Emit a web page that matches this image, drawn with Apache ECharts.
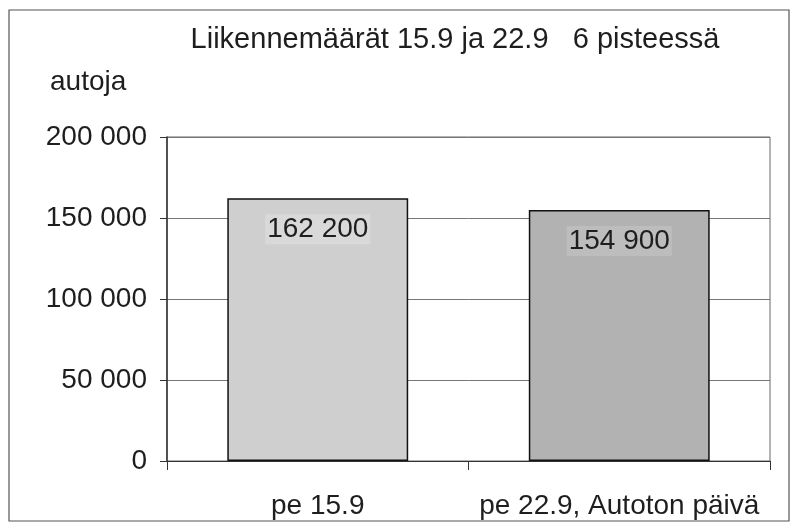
<!DOCTYPE html>
<html>
<head>
<meta charset="utf-8">
<script src="https://cdn.jsdelivr.net/npm/echarts@6/dist/echarts.min.js"></script>
<style>
  html, body { margin: 0; padding: 0; background: #fff; }
  #chart { width: 799px; height: 530px; }
</style>
</head>
<body>
<div id="chart"></div>
<script>
// data
var categories = ['pe 15.9', 'pe 22.9, Autoton päivä'];
var cars = [162200, 154900];
var barColors = ['#cfcfcf', '#b2b2b2'];
var labelBg = ['#d9d9d9', '#bdbdbd'];
var yTicks = [0, 50000, 100000, 150000, 200000];

function spaced(v) {
  return String(v).replace(/\B(?=(\d{3})+(?!\d))/g, ' ');
}

var font = 'Liberation Sans';
var textColor = '#1e1e1e';

var chart = echarts.init(document.getElementById('chart'));
chart.setOption({
  animation: false,
  textStyle: { fontFamily: font, color: textColor },
  title: {
    text: 'Liikennemäärät 15.9 ja 22.9   6 pisteessä',
    left: 450,
    textAlign: 'center',
    top: 20,
    textStyle: { fontFamily: font, fontSize: 29, fontWeight: 'normal', color: textColor }
  },
  graphic: [
    {
      type: 'rect',
      shape: { x: 9, y: 10, width: 780, height: 511 },
      style: { fill: 'none', stroke: '#555', lineWidth: 1.2 },
      silent: true
    },
    {
      type: 'text',
      left: 50,
      top: 68,
      style: { text: 'autoja', font: '28px "Liberation Sans"', fill: textColor }
    }
  ],
  grid: { left: 167, right: 29, top: 137, bottom: 69, show: true, borderColor: '#666', borderWidth: 1 },
  xAxis: {
    type: 'category',
    data: categories,
    axisLine: { lineStyle: { color: '#333', width: 1.2 } },
    axisTick: { show: true, length: 9, alignWithLabel: false, lineStyle: { color: '#333' } },
    axisLabel: { fontSize: 28, color: textColor, margin: 31, fontFamily: font, interval: 0 }
  },
  yAxis: {
    type: 'value',
    min: yTicks[0],
    max: yTicks[yTicks.length - 1],
    interval: yTicks[1] - yTicks[0],
    axisLine: { show: true, lineStyle: { color: '#333', width: 1.5 } },
    axisTick: { show: true, length: 7, lineStyle: { color: '#333' } },
    splitLine: { lineStyle: { color: '#777', width: 1 } },
    axisLabel: { fontSize: 28, color: textColor, margin: 20, fontFamily: font, formatter: spaced }
  },
  series: [{
    type: 'bar',
    barCategoryGap: '40%',
    data: cars.map(function (v, i) {
      return {
        value: v,
        itemStyle: { color: barColors[i], borderColor: '#111', borderWidth: 1.5 },
        label: { backgroundColor: labelBg[i] }
      };
    }),
    label: {
      show: true,
      position: 'insideTop',
      distance: 16,
      fontSize: 28,
      fontFamily: font,
      color: textColor,
      padding: [1, 2],
      formatter: function (p) { return spaced(p.value); }
    }
  }]
});
</script>
</body>
</html>
